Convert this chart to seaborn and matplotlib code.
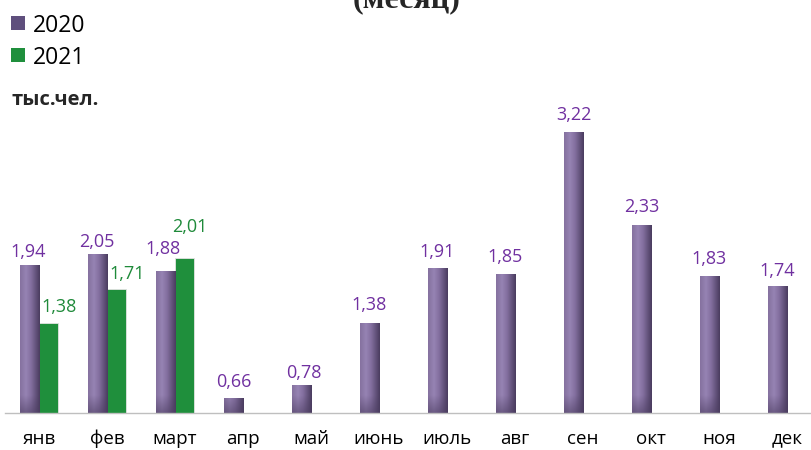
import numpy as np
import pandas as pd
import matplotlib.pyplot as plt
import seaborn as sns
from matplotlib.colors import to_rgb
from matplotlib.patches import Rectangle

# данные
months = ["янв", "фев", "март", "апр", "май", "июнь", "июль", "авг", "сен", "окт", "ноя", "дек"]
vals_2020 = [1.94, 2.05, 1.88, 0.66, 0.78, 1.38, 1.91, 1.85, 3.22, 2.33, 1.83, 1.74]
vals_2021 = [1.38, 1.71, 2.01]
years = ["2020", "2021"]

df = pd.DataFrame({
    "month": months + months[:len(vals_2021)],
    "year": [years[0]] * len(vals_2020) + [years[1]] * len(vals_2021),
    "value": vals_2020 + vals_2021,
})

purple = "#7a67a0"
green = "#1f8f3c"
label_colors = {"2020": "#7030a0", "2021": "#1f8a3a"}

# сдвиги подписей (пиксели): как в исходной диаграмме
label_nudge = {
    "2020": {"dx": [-1, -1, -3, 0, 2, 0, 0, 0, 0, 0, 0, 0],
             "gap": [8, 6.5, 17, 10.5, 7, 13, 11, 12, 12, 13, 12.5, 10]},
    "2021": {"dx": [11, 11, 5], "gap": [11, 10, 26]},
}

sns.set_theme(style="white")
plt.rcParams["font.family"] = ["Open Sans", "DejaVu Sans"]

W, H = 811, 450
fig = plt.figure(figsize=(W / 100, H / 100), dpi=100)
fig.patch.set_facecolor("white")

ymin, ymax = 0.512, 3.5
px_per_unit = 103.6
ax = fig.add_axes([5 / W, 37 / H, 816 / W, (ymax - ymin) * px_per_unit / H])

sns.barplot(data=df, x="month", y="value", hue="year", order=months, hue_order=years,
            palette=[purple, green], width=0.56, gap=0, saturation=1, legend=False,
            edgecolor="#e3e3e3", linewidth=0.6, ax=ax)

# градиент на фиолетовых столбцах
def bar_gradient(nx=60, ny=200, h_units=1.0):
    stops = [(0.0, "#85719f"), (0.3, "#9683b3"), (0.55, "#8470a0"), (1.0, "#4a3c5f")]
    xs = np.linspace(0, 1, nx)
    cols = np.array([to_rgb(c) for _, c in stops])
    pos = np.array([p for p, _ in stops])
    row = np.stack([np.interp(xs, pos, cols[:, k]) for k in range(3)], axis=-1)
    img = np.repeat(row[None, :, :], ny, axis=0)
    # затемнение у основания
    ys = np.linspace(1, 0, ny) * h_units
    fade = 0.17
    f = np.clip(1 - ys / fade, 0, 1)[:, None, None] * 0.55
    dark = np.array(to_rgb("#4a3c5f"))
    return img * (1 - f) + dark * f

for patch in ax.containers[0]:
    x0, w, h = patch.get_x(), patch.get_width(), patch.get_height()
    if not np.isfinite(h) or h <= 0:
        continue
    img = bar_gradient(h_units=h - ymin)
    im = ax.imshow(img, extent=[x0, x0 + w, ymin, h], aspect="auto",
                   interpolation="bilinear", zorder=patch.get_zorder() + 0.1)
    im.set_clip_path(patch)

# подписи значений
for cont, yr in zip(ax.containers, years):
    nud = label_nudge[yr]
    j = 0
    for patch in cont:
        h = patch.get_height()
        if not np.isfinite(h) or h <= 0:
            continue
        ax.annotate(f"{h:.2f}".replace(".", ","),
                    (patch.get_x() + patch.get_width() / 2, h),
                    xytext=(nud["dx"][j] * 0.72, nud["gap"][j] * 0.72),
                    textcoords="offset points",
                    ha="center", va="baseline", fontsize=13,
                    color=label_colors[yr])
        j += 1

ax.set_xlim(-0.5, 11.5)
ax.set_ylim(ymin, ymax)
ax.set_xlabel("")
ax.set_ylabel("")
ax.set_yticks([])
ax.set_xticks(range(len(months)))
ax.set_xticklabels(months, fontsize=13.5, color="black")
ax.set_xticks(np.arange(-0.5, len(months), 1), minor=True)
ax.tick_params(axis="x", which="major", length=0, pad=12)
ax.tick_params(axis="x", which="minor", length=4.5, width=1, color="#a6a6a6", direction="out")
for side in ["top", "left", "right"]:
    ax.spines[side].set_visible(False)
ax.spines["bottom"].set_color("#bfbfbf")
ax.spines["bottom"].set_linewidth(1)
ax.set_facecolor("white")

# легенда
def fx(px):
    return px / W

def fy(py):
    return 1 - py / H

for i, (yr, col) in enumerate(zip(years, ["#5f4f7d", green])):
    top = 16 + 32 * i
    fig.add_artist(Rectangle((fx(11), fy(top + 14)), 14 / W, 14 / H,
                             transform=fig.transFigure, facecolor=col, edgecolor="none"))
    fig.text(fx(33), fy(top + 16), yr, fontsize=16.5, va="baseline", ha="left", color="black")

fig.text(fx(11), fy(105), "тыс.чел.", fontsize=14.5, fontweight="bold", va="baseline", ha="left")
fig.text(fx(407), fy(7), "(месяц)", fontsize=23, fontweight="bold", va="baseline", ha="center",
         family=["Liberation Serif", "DejaVu Serif"])

fig.savefig("out.png", dpi=100, facecolor="white")
